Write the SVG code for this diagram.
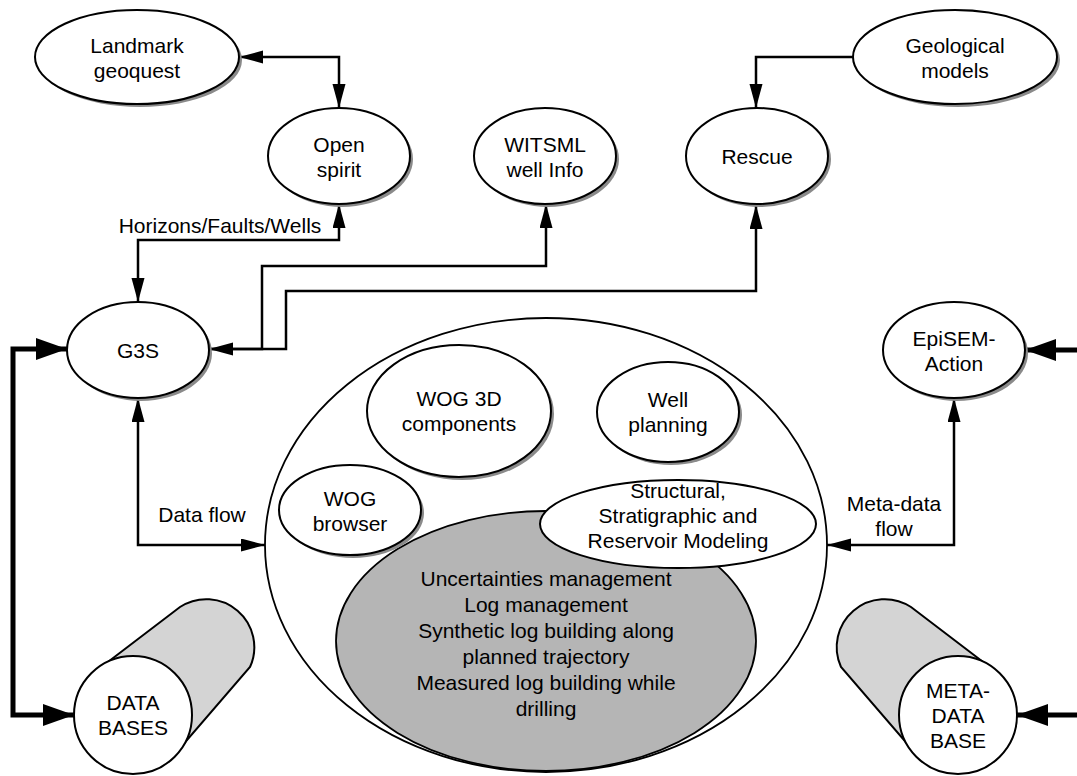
<svg xmlns="http://www.w3.org/2000/svg" width="1077" height="776" viewBox="0 0 1077 776">
<style>
text{font-family:"Liberation Sans",Arial,sans-serif;font-size:21px;fill:#000;text-anchor:middle}
.nd{fill:#fff;stroke:#000;stroke-width:2}
.sh{fill:#8a8a8a;stroke:none}
.cn{fill:none;stroke:#000;stroke-width:2.5}
.tk{fill:none;stroke:#000;stroke-width:5}
.big{fill:#fff;stroke:#000;stroke-width:1.8}
.gray{fill:#b5b5b5;stroke:#000;stroke-width:1.8}
.cyl{fill:#d4d4d4;stroke:#000;stroke-width:2}
</style>
<defs>
<marker id="a" markerUnits="userSpaceOnUse" markerWidth="26" markerHeight="14" refX="24" refY="6.5" orient="auto-start-reverse"><path d="M0,0 L24,6.5 L0,13 Z" fill="#000"/></marker>
<marker id="b" markerUnits="userSpaceOnUse" markerWidth="33" markerHeight="24" refX="31" refY="11" orient="auto-start-reverse"><path d="M0,0 L31,11 L0,22 Z" fill="#000"/></marker>
</defs>

<g id="connectors">
<path class="cn" d="M239 57 H339 V108" marker-start="url(#a)" marker-end="url(#a)"/>
<path class="cn" d="M339 204 V240 H138 V302" marker-start="url(#a)" marker-end="url(#a)"/>
<path class="cn" d="M209 349 H262 V266 H546 V204" marker-start="url(#a)" marker-end="url(#a)"/>
<path class="cn" d="M209 349 H286 V291 H756 V205" marker-end="url(#a)"/>
<path class="cn" d="M853 57 H756 V108" marker-end="url(#a)"/>
<path class="cn" d="M138 398 V545 H265" marker-start="url(#a)" marker-end="url(#a)"/>
<path class="cn" d="M827 545 H954 V398" marker-start="url(#a)" marker-end="url(#a)"/>
<path class="tk" d="M67 349 H13 V715 H74" marker-start="url(#b)" marker-end="url(#b)"/>
<path class="tk" d="M1025 350 H1080 V715 H1017" marker-start="url(#b)" marker-end="url(#b)"/>
<text x="220" y="233">Horizons/Faults/Wells</text>
<text x="202" y="522">Data flow</text>
<text x="894" y="511">Meta-data</text>
<text x="894" y="536">flow</text>
</g>

<g id="landmark">
<ellipse class="sh" cx="140" cy="60" rx="102" ry="47"/>
<ellipse class="nd" cx="137" cy="57" rx="102" ry="47"/>
<text x="137" y="53">Landmark</text><text x="137" y="78">geoquest</text>
</g>
<g id="openspirit">
<ellipse class="sh" cx="342" cy="159" rx="71" ry="48"/>
<ellipse class="nd" cx="339" cy="156" rx="71" ry="48"/>
<text x="339" y="152">Open</text><text x="339" y="177">spirit</text>
</g>
<g id="witsml">
<ellipse class="sh" cx="548" cy="159" rx="71" ry="48"/>
<ellipse class="nd" cx="545" cy="156" rx="71" ry="48"/>
<text x="545" y="152">WITSML</text><text x="545" y="177">well Info</text>
</g>
<g id="rescue">
<ellipse class="sh" cx="760" cy="159" rx="71" ry="48"/>
<ellipse class="nd" cx="757" cy="156" rx="71" ry="48"/>
<text x="757" y="164">Rescue</text>
</g>
<g id="geological">
<ellipse class="sh" cx="958" cy="60" rx="102" ry="47"/>
<ellipse class="nd" cx="955" cy="57" rx="102" ry="47"/>
<text x="955" y="53">Geological</text><text x="955" y="78">models</text>
</g>
<g id="g3s">
<ellipse class="sh" cx="141" cy="353" rx="71" ry="48"/>
<ellipse class="nd" cx="138" cy="350" rx="71" ry="48"/>
<text x="138" y="358">G3S</text>
</g>
<g id="episem">
<ellipse class="sh" cx="957" cy="353" rx="71" ry="48"/>
<ellipse class="nd" cx="954" cy="350" rx="71" ry="48"/>
<text x="954" y="346">EpiSEM-</text><text x="954" y="371">Action</text>
</g>

<g id="platform">
<ellipse class="big" cx="546" cy="545" rx="281" ry="227"/>
</g>
<g id="core">
<ellipse class="gray" cx="546" cy="641" rx="210" ry="130"/>
<text x="546" y="586">Uncertainties management</text>
<text x="546" y="612">Log management</text>
<text x="546" y="638">Synthetic log building along</text>
<text x="546" y="664">planned trajectory</text>
<text x="546" y="690">Measured log building while</text>
<text x="546" y="716">drilling</text>
</g>
<g id="wog3d">
<ellipse class="sh" cx="462" cy="414" rx="92" ry="66"/>
<ellipse class="nd" cx="459" cy="411" rx="92" ry="66"/>
<text x="459" y="406">WOG 3D</text><text x="459" y="431">components</text>
</g>
<g id="wellplanning">
<ellipse class="sh" cx="671" cy="415" rx="71" ry="50"/>
<ellipse class="nd" cx="668" cy="412" rx="71" ry="50"/>
<text x="668" y="407">Well</text><text x="668" y="432">planning</text>
</g>
<g id="wogbrowser">
<ellipse class="sh" cx="353" cy="513" rx="71" ry="45"/>
<ellipse class="nd" cx="350" cy="510" rx="71" ry="45"/>
<text x="350" y="506">WOG</text><text x="350" y="531">browser</text>
</g>
<g id="structural">
<ellipse class="nd" cx="678" cy="524" rx="138" ry="44"/>
<text x="678" y="498">Structural,</text>
<text x="678" y="523">Stratigraphic and</text>
<text x="678" y="548">Reservoir Modeling</text>
</g>

<g id="databases">
<path class="cyl" d="M100 668 L180 607 A48 48 0 0 1 250 667 L175 754 Z"/>
<circle class="nd" cx="133" cy="715" r="59"/>
<text x="133" y="710">DATA</text><text x="133" y="735">BASES</text>
</g>
<g id="metadatabase">
<path class="cyl" d="M991 668 L911 607 A48 48 0 0 0 841 667 L916 754 Z"/>
<circle class="nd" cx="958" cy="715" r="59"/>
<text x="958" y="698">META-</text><text x="958" y="723">DATA</text><text x="958" y="748">BASE</text>
</g>
</svg>
